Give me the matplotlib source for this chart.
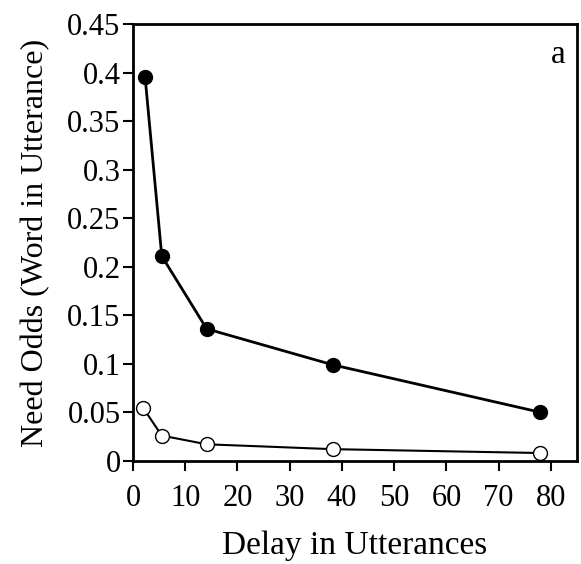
import matplotlib
matplotlib.use("Agg")
import matplotlib.pyplot as plt

# delay (utterances) vs need odds
delay_filled = [2.3, 5.5, 14.1, 38.2, 78]
odds_filled = [0.396, 0.211, 0.136, 0.099, 0.050]
delay_open = [2.0, 5.5, 14.1, 38.2, 78]
odds_open = [0.054, 0.026, 0.017, 0.012, 0.008]

xticks = [0, 10, 20, 30, 40, 50, 60, 70, 80]
yticks = [0, 0.05, 0.1, 0.15, 0.2, 0.25, 0.3, 0.35, 0.4, 0.45]
ytick_labels = ["0", "0.05", "0.1", "0.15", "0.2", "0.25", "0.3", "0.35", "0.4", "0.45"]

plt.rcParams['font.family'] = 'Liberation Serif'

fig = plt.figure(figsize=(5.81, 5.64), dpi=100)
ax = fig.add_axes([0.229, 0.183, 0.764, 0.774])

ax.plot(delay_filled, odds_filled, color="black", lw=2, marker="o",
        ms=10, mfc="black", mec="black")
ax.plot(delay_open, odds_open, color="black", lw=1.5, marker="o",
        ms=10, mfc="white", mec="black", mew=1.0)

ax.set_xlim(0, 85)
ax.set_ylim(0, 0.45)
ax.set_xticks(xticks)
ax.set_yticks(yticks)
ax.set_yticklabels(ytick_labels)
ax.tick_params(direction="out", length=7, width=1.5, labelsize=22)
ax.tick_params(axis="x", pad=10)
ax.tick_params(axis="y", pad=2)
for spine in ax.spines.values():
    spine.set_linewidth(2)

ax.set_xlabel("Delay in Utterances", fontsize=24, labelpad=12)
ax.set_ylabel("Need Odds (Word in Utterance)", fontsize=23, labelpad=12)
ax.text(0.975, 0.965, "a", transform=ax.transAxes, ha="right", va="top", fontsize=24)

fig.savefig("out.png", dpi=100)
